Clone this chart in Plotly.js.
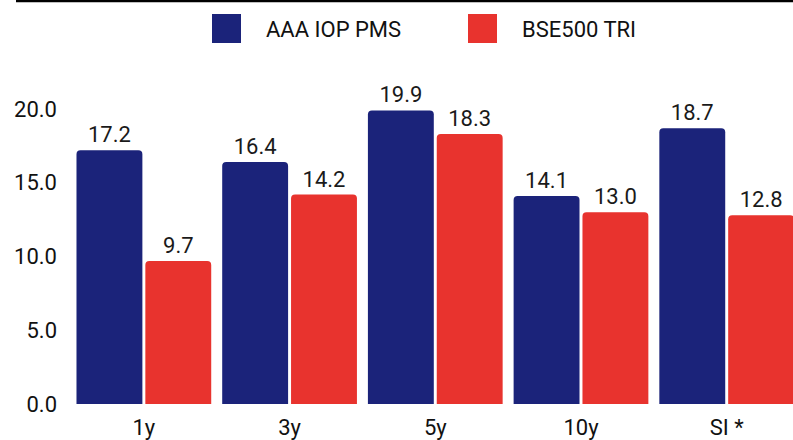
<!DOCTYPE html>
<html>
<head>
<meta charset="utf-8">
<script src="https://cdn.plot.ly/plotly-3.0.1.min.js"></script>
<style>html,body{margin:0;padding:0;background:#fff}#chart{width:793px;height:440px}</style>
</head>
<body>
<div id="chart"></div>
<script>
const categories = ["1y", "3y", "5y", "10y", "SI *"];
const seriesNames = ["AAA IOP PMS", "BSE500 TRI"];
const pmsValues = [17.2, 16.4, 19.9, 14.1, 18.7];
const benchmarkValues = [9.7, 14.2, 18.3, 13.0, 12.8];
const yTickValues = [0, 5, 10, 15, 20];
const yTickLabels = ["0.0", "5.0", "10.0", "15.0", "20.0"];
const colors = ["#1b237a", "#e8332e"];

const FONT = "Roboto, 'Liberation Sans', sans-serif";

function barTrace(name, values, color) {
  return {
    type: "bar",
    name: name,
    x: categories,
    y: values,
    text: values.map(v => v.toFixed(1)),
    textposition: "outside",
    textfont: {family: FONT, size: 22, color: "#1a1a1a"},
    marker: {color: color, cornerradius: 4},
    cliponaxis: true,
    showlegend: false,
    hoverinfo: "x+y"
  };
}

const traces = [
  barTrace(seriesNames[0], pmsValues, colors[0]),
  barTrace(seriesNames[1], benchmarkValues, colors[1])
];

const ML = 71, MT = 60, MB = 36, W = 793, H = 440;
const PW = W - ML, PH = H - MT - MB;
function px(x){return (x - ML) / PW;}
function py(y){return (H - MB - y) / PH;}

const legendItems = [
  {x0: 212, text: seriesNames[0], color: colors[0]},
  {x0: 468, text: seriesNames[1], color: colors[1]}
];

const shapes = [
  {type: "line", xref: "paper", yref: "paper", x0: px(16), x1: px(793), y0: py(1), y1: py(1),
   line: {color: "#000", width: 2.5}}
];
const annotations = [];
legendItems.forEach(it => {
  shapes.push({type: "rect", xref: "paper", yref: "paper",
    x0: px(it.x0), x1: px(it.x0 + 29), y0: py(43), y1: py(14),
    fillcolor: it.color, line: {width: 0}, layer: "above"});
  annotations.push({xref: "paper", yref: "paper", x: px(it.x0 + 52), y: py(29),
    xanchor: "left", yanchor: "middle", showarrow: false, text: it.text,
    font: {family: FONT, size: 22, color: "#111"}});
});

const layout = {
  width: 793, height: 440,
  margin: {l: ML, r: 0, t: MT, b: MB, pad: 0},
  paper_bgcolor: "#fff", plot_bgcolor: "#fff",
  font: {family: FONT, size: 22, color: "#111"},
  barmode: "group",
  bargap: 0.055,
  bargroupgap: 0.043,
  showlegend: false,
  xaxis: {
    type: "category",
    range: [-0.5, 4.455],
    showgrid: false, zeroline: false, showline: false,
    ticks: "", ticklabelstandoff: 8,
    tickfont: {family: FONT, size: 22, color: "#111"}
  },
  yaxis: {
    range: [0, 23.32],
    tickvals: yTickValues, ticktext: yTickLabels,
    showgrid: false, zeroline: false, showline: false,
    ticks: "", ticklabelstandoff: 13,
    tickfont: {family: FONT, size: 22, color: "#111"}
  },
  shapes: shapes,
  annotations: annotations
};

Plotly.newPlot("chart", traces, layout, {displayModeBar: false, staticPlot: true});
</script>
</body>
</html>
